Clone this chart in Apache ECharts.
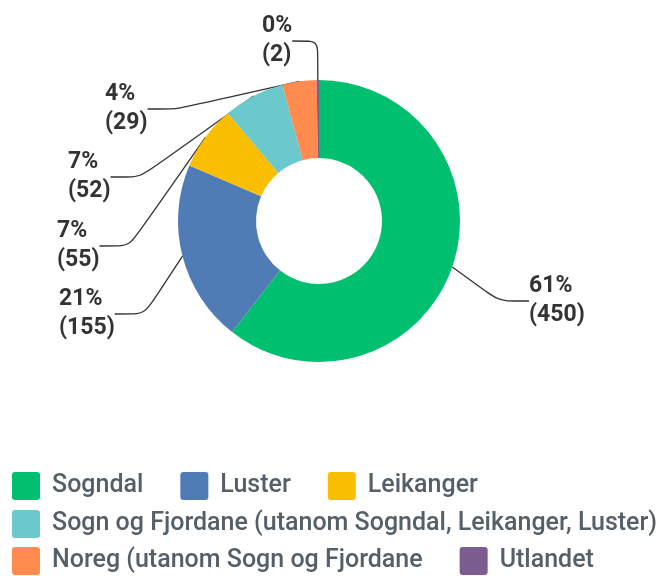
<!DOCTYPE html>
<html>
<head>
<meta charset="utf-8">
<script src="https://cdn.jsdelivr.net/npm/echarts@6/dist/echarts.min.js"></script>
<style>
  html, body { margin: 0; padding: 0; background: #fff; }
  #chart { width: 667px; height: 576px; }
</style>
</head>
<body>
<div id="chart"></div>
<script>
var categories = [
  "Sogndal",
  "Luster",
  "Leikanger",
  "Sogn og Fjordane (utanom Sogndal, Leikanger, Luster)",
  "Noreg (utanom Sogn og Fjordane",
  "Utlandet"
];
var counts = [450, 155, 55, 52, 29, 2];
var colors = ["#00bf6f", "#507cb6", "#f9be00", "#6bc8cd", "#ff8b4f", "#7d5c90"];

// where each label sits (left edge, vertical middle)
var labelPos = [[529, 301], [59, 314], [57, 246], [68, 177], [105, 109], [262, 41]];

var chart = echarts.init(document.getElementById("chart"));

var legendBase = {
  left: 12,
  padding: 0,
  orient: "horizontal",
  icon: "path://M3,0 H25 A3,3 0 0 1 28,3 V25 A3,3 0 0 1 25,28 H3 A3,3 0 0 1 0,25 V3 A3,3 0 0 1 3,0 Z",
  itemWidth: 28,
  itemHeight: 28,
  itemGap: 37,
  selectedMode: false,
  textStyle: {
    fontFamily: "Roboto",
    fontSize: 25,
    fontWeight: 500,
    color: "#555f68",
    padding: [0, 0, 0, 7]
  }
};

chart.setOption({
  color: colors,
  animation: false,
  legend: [
    Object.assign({}, legendBase, { top: 472, data: categories.slice(0, 3) }),
    Object.assign({}, legendBase, { top: 510, data: categories.slice(3, 4) }),
    Object.assign({}, legendBase, { top: 547, data: categories.slice(4, 6) })
  ],
  series: [
    {
      type: "pie",
      center: [319, 221],
      radius: [63, 141],
      startAngle: 90,
      clockwise: true,
      percentPrecision: 0,
      avoidLabelOverlap: false,
      itemStyle: { borderWidth: 0 },
      label: {
        formatter: "{d}%\n({c})",
        fontFamily: "Roboto",
        fontSize: 23,
        fontWeight: "bold",
        lineHeight: 29,
        color: "#333"
      },
      labelLine: {
        show: true,
        length: 12,
        length2: 30,
        smooth: 0.2,
        lineStyle: { color: "#333", width: 1.3 }
      },
      labelLayout: function (params) {
        var p = labelPos[params.dataIndex];
        return { x: p[0], y: p[1], align: "left", verticalAlign: "middle" };
      },
      data: categories.map(function (name, i) {
        return { name: name, value: counts[i] };
      })
    }
  ]
});
</script>
</body>
</html>
